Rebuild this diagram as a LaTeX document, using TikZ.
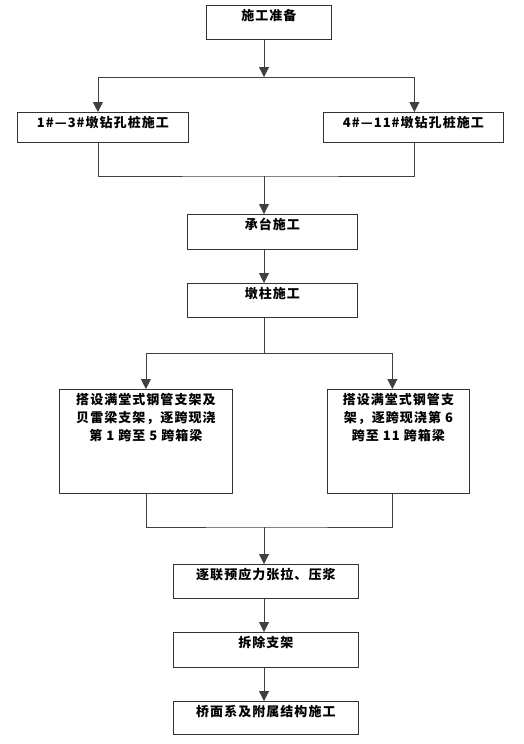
\documentclass[tikz,border=0pt]{standalone}
\usepackage{fontspec}
\newfontfamily\cjk{Noto Sans CJK SC}[LetterSpace=8]
\usetikzlibrary{arrows.meta}

% text sits at the top of each box, like a word-processor text box
\newcommand{\boxtext}[3]{\parbox[t][#2][t]{#1}{\centering\vspace{4pt}#3}}

\tikzset{
  stepbox/.style={draw=black!80, line width=0.8pt, inner sep=0pt, anchor=north west,
    font=\cjk\bfseries\fontsize{13pt}{18pt}\selectfont},
  link/.style={draw=black!75, line width=0.8pt},
  flow/.style={link, -{Triangle[width=10pt,length=10pt]}}
}

\begin{document}
\begin{tikzpicture}[x=1pt, y=-1pt]
  \useasboundingbox (0,0) rectangle (524,744);

  % preparation
  \node[stepbox] (prep) at (206,5) {\boxtext{125pt}{34pt}{施工准备}};

  % bored piles
  \node[stepbox] (pileL) at (17,112) {\boxtext{171pt}{30pt}{1\#—3\#墩钻孔桩施工}};
  \node[stepbox] (pileR) at (323,112) {\boxtext{180pt}{30pt}{4\#—11\#墩钻孔桩施工}};

  % caps and piers
  \node[stepbox] (cap) at (187,214) {\boxtext{170pt}{35pt}{承台施工}};
  \node[stepbox] (pier) at (187,283) {\boxtext{170pt}{34pt}{墩柱施工}};

  % falsework and box girders
  \node[stepbox] (frameL) at (59,389) {\boxtext{173pt}{104pt}{搭设满堂式钢管支架及\\贝雷梁支架，逐跨现浇\\第 1 跨至 5 跨箱梁}};
  \node[stepbox] (frameR) at (327,389) {\boxtext{142pt}{104pt}{搭设满堂式钢管支\\架，逐跨现浇第 6\\跨至 11 跨箱梁}};

  % finishing
  \node[stepbox] (tension) at (173,564) {\boxtext{185pt}{34pt}{逐联预应力张拉、压浆}};
  \node[stepbox] (remove) at (173,632) {\boxtext{185pt}{35pt}{拆除支架}};
  \node[stepbox] (deck) at (173,701) {\boxtext{185pt}{33pt}{桥面系及附属结构施工}};

  % connectors
  \coordinate (spine) at (264,0);
  \coordinate (fork1) at (264,77);
  \coordinate (join1) at (264,176);
  \coordinate (fork2) at (264,353);
  \coordinate (join2) at (264,527);

  \draw[flow] (prep.south -| spine) -- (fork1);
  \draw[flow] (fork1) -| ([xshift=-5pt]pileL.north);
  \draw[flow] (fork1) -| ([xshift=1pt]pileR.north);
  \draw[link] ([xshift=-5pt]pileL.south) |- (join1) -| ([xshift=1pt]pileR.south);
  \draw[flow] (join1) -- (cap.north -| spine);
  \draw[flow] (cap.south -| spine) -- (pier.north -| spine);
  \draw[link] (pier.south -| spine) -- (fork2);
  \draw[flow] (fork2) -| (frameL.north);
  \draw[flow] (fork2) -| ([xshift=-6pt]frameR.north);
  \draw[link] (frameL.south) |- (join2) -| ([xshift=-6pt]frameR.south);
  \draw[flow] (join2) -- (tension.north -| spine);
  \draw[flow] (tension.south -| spine) -- (remove.north -| spine);
  \draw[flow] (remove.south -| spine) -- (deck.north -| spine);
\end{tikzpicture}
\end{document}
